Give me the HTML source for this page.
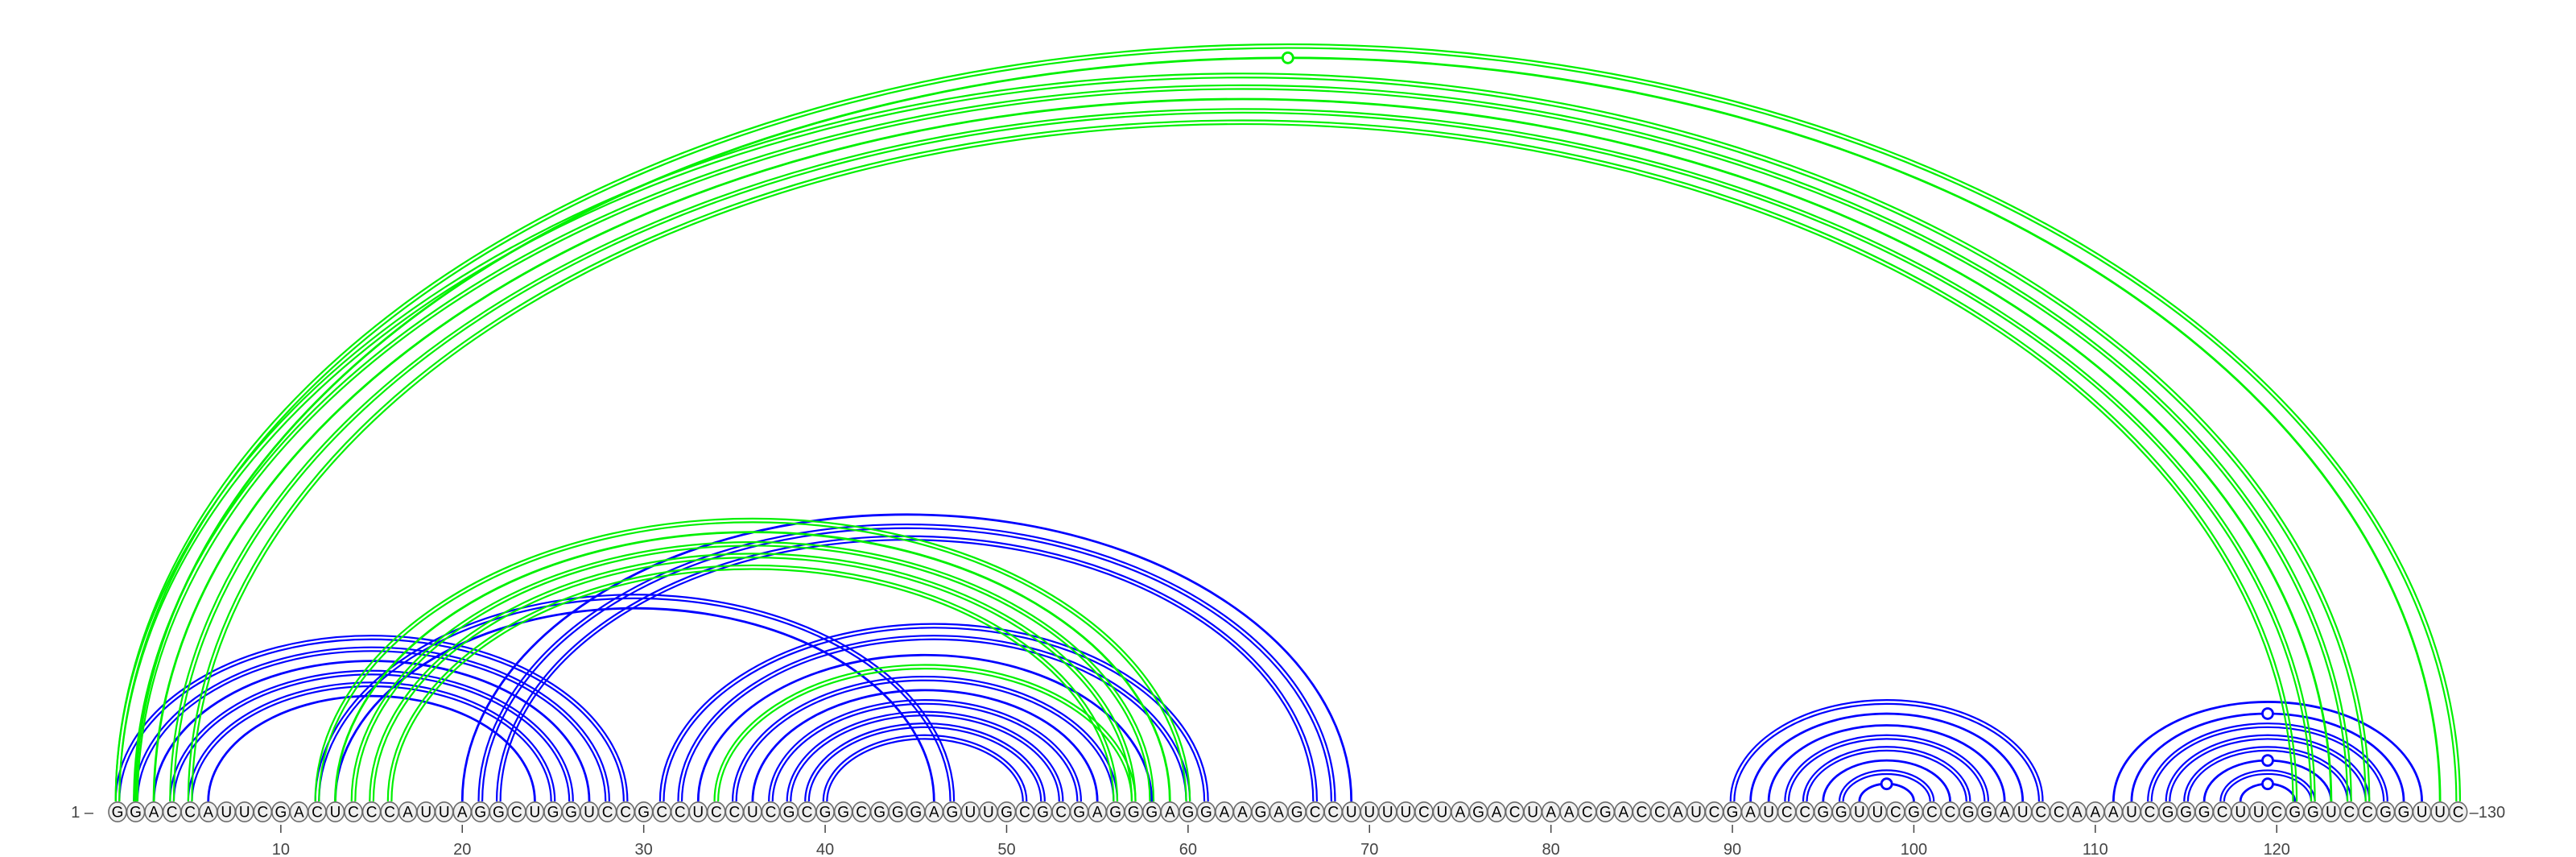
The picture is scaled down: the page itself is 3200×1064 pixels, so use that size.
<!DOCTYPE html>
<html><head><meta charset="utf-8">
<style>
html,body{margin:0;padding:0;background:#fff;}
svg{display:block;}
text{font-family:"Liberation Sans","DejaVu Sans",sans-serif;}
</style></head>
<body>
<svg id="chart" width="3200" height="1064" viewBox="0 0 3200 1064" xmlns="http://www.w3.org/2000/svg">
<g id="arcs-blue"></g>
<g id="arcs-green"></g>
<g id="markers"></g>
<g id="axis"></g>
</svg>
<script>
const sequence = "GGACCAUUCGACUCCCAUUAGGCUGGUCCGCCUCCUCGCGGCGGGAGUUGCGCGAGGGAGGAAGAGCCUUUUCUAGACUAACGACCAUCGAUCCGGUUCGCCGGAUCCAAAUCGGGCUUCGGUCCGGUUC";
const tickLabels = [10,20,30,40,50,60,70,80,90,100,110,120];
// blue structure: pair start, pair end, double-line flag, marker flag
const blueI = [1,2,3,4,5,6,12,13,20,21,22,31,32,33,35,36,37,38,39,40,90,91,92,93,94,95,96,97,111,112,113,114,115,116,117,118];
const blueJ = [29,28,27,26,25,24,47,46,69,68,67,61,60,58,56,55,54,53,52,51,107,106,105,104,103,102,101,100,128,127,126,125,124,123,122,121];
const blueDouble = [1,1,0,1,1,0,1,0,0,1,1,1,1,0,1,0,1,1,1,1,1,0,0,1,1,0,1,0,0,0,1,1,1,0,1,0];
const blueMarker = [0,0,0,0,0,0,0,0,0,0,0,0,0,0,0,0,0,0,0,0,0,0,0,0,0,0,0,1,0,1,0,0,0,1,0,1];
// green structure
const greenI = [1,2,1,2,3,4,5,12,13,14,15,16,34];
const greenJ = [130,129,125,124,123,122,121,60,59,58,57,56,57];
const greenDouble = [1,0,1,1,0,1,1,1,0,1,1,1,1];
const greenMarker = [0,1,0,0,0,0,0,0,0,0,0,0,0];

const NS = "http://www.w3.org/2000/svg";
const X0 = 146, STEP = 22.54, BASE = 995, K = 0.645, CY = 1008;
function xPos(i){ return X0 + (i-1)*STEP; }
function mk(tag, attrs, parent){
  const e = document.createElementNS(NS, tag);
  for (const k in attrs) e.setAttribute(k, attrs[k]);
  parent.appendChild(e);
  return e;
}
function arcPath(x1, x2, off){
  const rx = (x2-x1)/2 + off, ry = K*(x2-x1)/2 + off;
  return "M"+(x1-off)+" "+BASE+" A"+rx+" "+ry+" 0 0 1 "+(x2+off)+" "+BASE;
}
function drawArcs(I, J, D, M, color, group, label){
  const mg = document.getElementById("markers");
  for (let n=0;n<I.length;n++){
    const x1 = xPos(I[n]), x2 = xPos(J[n]);
    const offs = D[n] ? [-2.3, 2.3] : [0];
    for (const o of offs){
      const p = mk("path", {d: arcPath(x1,x2,o), fill:"none", stroke:color, "stroke-width": D[n]?2.2:2.8}, group);
      
      
    }
    if (M[n]){
      const ry = K*(x2-x1)/2;
      const c = mk("circle", {cx:(x1+x2)/2, cy:BASE-ry, r:6.5, fill:"#fff", stroke:color, "stroke-width":2.8}, mg);
      
      
    }
  }
}
drawArcs(blueI, blueJ, blueDouble, blueMarker, "#0000ff", document.getElementById("arcs-blue"), "blue");
drawArcs(greenI, greenJ, greenDouble, greenMarker, "#00f000", document.getElementById("arcs-green"), "green");

const ax = document.getElementById("axis");
for (let i=1;i<=sequence.length;i++){
  const x = xPos(i);
  const e = mk("ellipse", {cx:x, cy:CY, rx:11, ry:12.2, fill:"#f0f0f0", stroke:"#6a6a6a", "stroke-width":1.6}, ax);
  
  
  const t = mk("text", {x:x, y:CY+6.5, "text-anchor":"middle", "font-size":19, fill:"#000"}, ax);
  t.textContent = sequence[i-1];
  
  
}
for (const v of tickLabels){
  const x = xPos(v);
  const l = mk("line", {x1:x, y1:1024, x2:x, y2:1034, stroke:"#444", "stroke-width":1.5}, ax);
  
  
  const t = mk("text", {x:x, y:1061, "text-anchor":"middle", "font-size":20, fill:"#444"}, ax);
  t.textContent = v;
  
  
}
const sl = mk("text", {x:116, y:CY+7, "text-anchor":"end", "font-size":20, fill:"#444"}, ax);
sl.textContent = "1 \u2013";


const el = mk("text", {x:xPos(sequence.length)+14, y:CY+7, "text-anchor":"start", "font-size":20, fill:"#444"}, ax);
el.textContent = "\u2013130";


</script>
</body></html>
